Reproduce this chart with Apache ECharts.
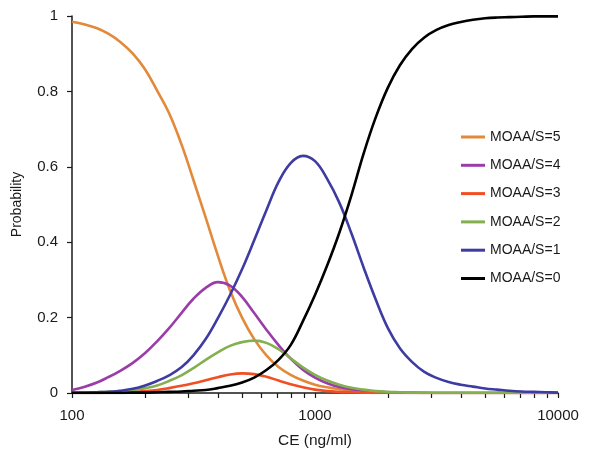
<!DOCTYPE html>
<html>
<head>
<meta charset="utf-8">
<script src="https://cdn.jsdelivr.net/npm/echarts@6/dist/echarts.min.js"></script>
<style>html,body{margin:0;padding:0;background:#fff;}#c{width:590px;height:450px;}</style>
</head>
<body>
<div id="c"></div>
<script>
const ce = [100,112,126,141,158,178,200,224,251,282,316,355,398,447,501,562,631,708,794,891,1000,1122,1259,1413,1585,1778,1995,2239,2512,2818,3162,3548,3981,4467,5012,5623,6310,7079,7943,8913,10000];
const s5 = [0.985,0.978,0.968,0.953,0.931,0.9,0.858,0.802,0.742,0.66,0.565,0.465,0.365,0.272,0.2,0.143,0.1,0.069,0.048,0.033,0.022,0.015,0.01,0.007,0.005,0.003,0.002,0.001,0.001,0,0,0,0,0,0,0,0,0,0,0,0];
const s4 = [0.008,0.016,0.027,0.042,0.059,0.08,0.106,0.137,0.172,0.212,0.25,0.279,0.294,0.285,0.255,0.212,0.168,0.127,0.091,0.062,0.041,0.026,0.016,0.01,0.006,0.003,0.002,0.001,0,0,0,0,0,0,0,0,0,0,0,0,0];
const s3 = [0,0,0,0.001,0.002,0.003,0.005,0.008,0.013,0.019,0.026,0.034,0.042,0.049,0.052,0.05,0.043,0.033,0.023,0.015,0.009,0.005,0.003,0.002,0.001,0,0,0,0,0,0,0,0,0,0,0,0,0,0,0,0];
const s2 = [0,0.001,0.002,0.003,0.005,0.008,0.013,0.02,0.032,0.047,0.066,0.088,0.108,0.125,0.135,0.139,0.133,0.116,0.092,0.068,0.048,0.033,0.022,0.014,0.009,0.005,0.003,0.002,0.001,0.001,0,0,0,0,0,0,0,0,0,0,0];
const s1 = [0.001,0.001,0.002,0.003,0.006,0.011,0.02,0.032,0.047,0.068,0.1,0.143,0.198,0.26,0.328,0.405,0.485,0.56,0.61,0.629,0.615,0.568,0.505,0.423,0.333,0.248,0.172,0.118,0.082,0.056,0.04,0.029,0.022,0.017,0.012,0.009,0.006,0.004,0.003,0.002,0.001];
const s0 = [0,0,0,0,0,0.001,0.001,0.002,0.003,0.004,0.006,0.008,0.013,0.019,0.028,0.041,0.061,0.088,0.127,0.19,0.26,0.338,0.425,0.525,0.635,0.731,0.81,0.87,0.913,0.943,0.963,0.976,0.984,0.99,0.994,0.996,0.997,0.998,0.999,0.999,0.999];
const seriesNames = ['MOAA/S=5','MOAA/S=4','MOAA/S=3','MOAA/S=2','MOAA/S=1','MOAA/S=0'];
const seriesValues = [s5,s4,s3,s2,s1,s0];
const seriesColors = ['#E3893A','#9B3DA8','#F24E24','#84AF50','#3E3CA2','#000000'];
const xTickValues = [100,200,300,400,500,600,700,800,900,1000,2000,3000,4000,5000,6000,7000,8000,9000,10000];
const xLabelValues = [100,1000,10000];

const chart = echarts.init(document.getElementById('c'), null, {renderer:'canvas'});
const font = 'Arial, "Liberation Sans", Helvetica, sans-serif';
chart.setOption({
  animation: false,
  backgroundColor: '#fff',
  textStyle: {fontFamily: font},
  grid: {left: 72, right: 32, top: 16, bottom: 57, outerBoundsMode: 'none', containLabel: false},
  legend: {
    orient: 'vertical', left: 461, top: 130, padding: 0,
    icon: 'rect', itemWidth: 24, itemHeight: 3, itemGap: 14.3,
    textStyle: {fontSize: 14, lineHeight: 14, color: '#1a1a1a', fontFamily: font},
    data: seriesNames
  },
  xAxis: {
    type: 'log', logBase: 10, min: 100, max: 10000,
    name: 'CE (ng/ml)', nameLocation: 'middle', nameGap: 40,
    nameTextStyle: {fontSize: 15.5, color: '#1a1a1a', fontFamily: font},
    axisLine: {lineStyle: {color: '#1a1a1a', width: 1.5}},
    axisTick: {show: true, length: 5, inside: false, lineStyle: {color: '#1a1a1a', width: 1.2}, customValues: xTickValues},
    axisLabel: {fontSize: 15, color: '#1a1a1a', margin: 15, customValues: xLabelValues, formatter: v => String(v)},
    splitLine: {show: false}, minorTick: {show: false}
  },
  yAxis: {
    type: 'value', min: 0, max: 1, interval: 0.2,
    name: 'Probability', nameLocation: 'middle', nameGap: 48,
    nameTextStyle: {fontSize: 14, color: '#1a1a1a', fontFamily: font},
    axisLine: {show: true, lineStyle: {color: '#1a1a1a', width: 1.5}},
    axisTick: {show: true, length: 5, lineStyle: {color: '#1a1a1a', width: 1.2}},
    axisLabel: {fontSize: 15, color: '#1a1a1a', margin: 14},
    splitLine: {show: false}
  },
  series: seriesNames.map((n, i) => ({
    name: n, type: 'line', symbol: 'none', smooth: 0.4,
    lineStyle: {width: 2.6, color: seriesColors[i]},
    itemStyle: {color: seriesColors[i]},
    data: ce.map((x, j) => [x, seriesValues[i][j]])
  }))
});
</script>
</body>
</html>
